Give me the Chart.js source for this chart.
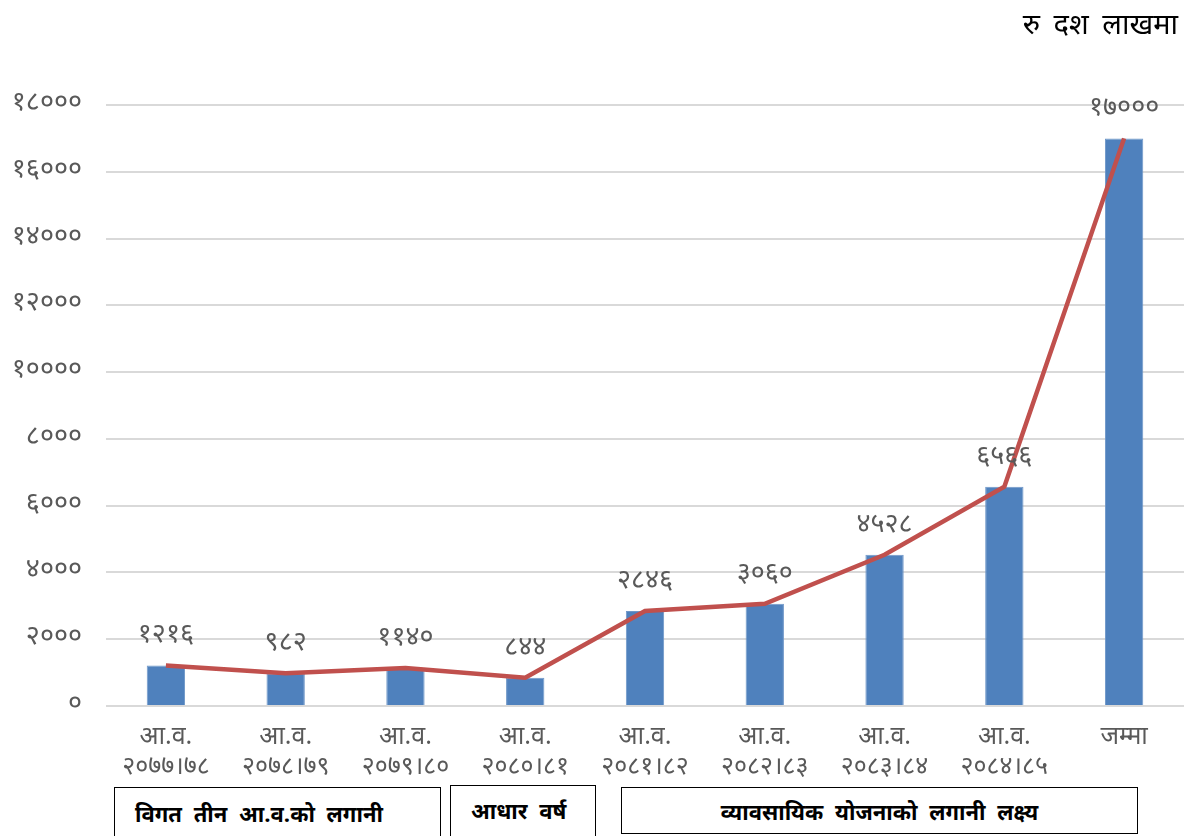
<!DOCTYPE html>
<html>
<head>
<meta charset="utf-8">
<script src="https://cdn.jsdelivr.net/npm/chart.js@4.4.1/dist/chart.umd.min.js"></script>
<style>
  html, body { margin: 0; padding: 0; background: #fff; }
  #wrap { position: relative; width: 1184px; height: 836px; overflow: hidden; }
  #unit { position: absolute; right: 6px; top: 8px; font: 29px "Noto Sans Devanagari", "Noto Sans", sans-serif; color: #000; word-spacing: 6px; }
  .box { position: absolute; border: 1.5px solid #000; box-sizing: border-box; background: #fff;
         font: bold 22px "Noto Sans Devanagari", "Noto Sans", sans-serif; color: #000; word-spacing: 6px; }
</style>
</head>
<body>
<div id="wrap">
  <canvas id="chart" width="1184" height="836"></canvas>
  <div id="unit">रु दश लाखमा</div>
  <div class="box" style="left:114px; top:787px; width:327px; height:60px; padding:14px 0 0 20px;">विगत तीन आ.व.को लगानी</div>
  <div class="box" style="left:450px; top:785px; width:146px; height:60px; padding:13px 0 0 20px;">आधार वर्ष</div>
  <div class="box" style="left:621px; top:787px; width:517px; height:47px; padding:12px 0 0 0; text-align:center;">व्यावसायिक योजनाको लगानी लक्ष्य</div>
</div>
<script>
const categories = [
    ['आ.व.', '२०७७।७८'],
    ['आ.व.', '२०७८।७९'],
    ['आ.व.', '२०७९।८०'],
    ['आ.व.', '२०८०।८१'],
    ['आ.व.', '२०८१।८२'],
    ['आ.व.', '२०८२।८३'],
    ['आ.व.', '२०८३।८४'],
    ['आ.व.', '२०८४।८५'],
    'जम्मा'
];
const investment = [1216, 982, 1140, 844, 2846, 3060, 4528, 6566, 17000];
const valueLabels = ['१२१६', '९८२', '११४०', '८४४', '२८४६', '३०६०', '४५२८', '६५६६', '१७०००'];
const yTickLabels = ['०', '२०००', '४०००', '६०००', '८०००', '१००००', '१२०००', '१४०००', '१६०००', '१८०००'];

const devFont = '"Noto Sans Devanagari", "Noto Sans", sans-serif';

// values written above each bar
const barLabels = {
    id: 'barLabels',
    afterDatasetsDraw(chart) {
        const ctx = chart.ctx;
        const meta = chart.getDatasetMeta(1);
        ctx.save();
        ctx.font = '27px ' + devFont;
        ctx.fillStyle = '#595959';
        ctx.textAlign = 'center';
        ctx.textBaseline = 'middle';
        meta.data.forEach((bar, i) => {
            ctx.fillText(valueLabels[i], bar.x, bar.y - 28);
        });
        ctx.restore();
    }
};

new Chart(document.getElementById('chart').getContext('2d'), {
    data: {
        labels: categories,
        datasets: [
            {
                type: 'line',
                data: investment,
                borderColor: '#C0504D',
                borderWidth: 4.5,
                pointRadius: 0,
                tension: 0,
                order: 0
            },
            {
                type: 'bar',
                data: investment,
                backgroundColor: '#4F81BD',
                borderColor: '#6F97C8',
                borderWidth: 1,
                categoryPercentage: 1,
                barPercentage: 0.32,
                order: 1
            }
        ]
    },
    options: {
        responsive: false,
        animation: false,
        devicePixelRatio: 1,
        layout: { padding: { top: 105, right: 0, left: 0, bottom: 0 } },
        plugins: {
            legend: { display: false },
            tooltip: { enabled: false }
        },
        scales: {
            x: {
                grid: { display: false },
                border: { display: false },
                ticks: {
                    color: '#595959',
                    font: { size: 25, family: devFont, lineHeight: 1.2 },
                    padding: 10,
                    maxRotation: 0,
                    autoSkip: false
                },
                afterFit(scale) { scale.height = 130; }
            },
            y: {
                min: 0,
                max: 18000,
                grid: { color: '#D9D9D9', lineWidth: 2, drawTicks: false },
                border: { display: false },
                ticks: {
                    stepSize: 2000,
                    color: '#595959',
                    font: { size: 27, family: devFont },
                    padding: 24,
                    callback: (v) => yTickLabels[v / 2000]
                },
                afterFit(scale) { scale.width = 106; }
            }
        }
    },
    plugins: [barLabels]
});
</script>
</body>
</html>
